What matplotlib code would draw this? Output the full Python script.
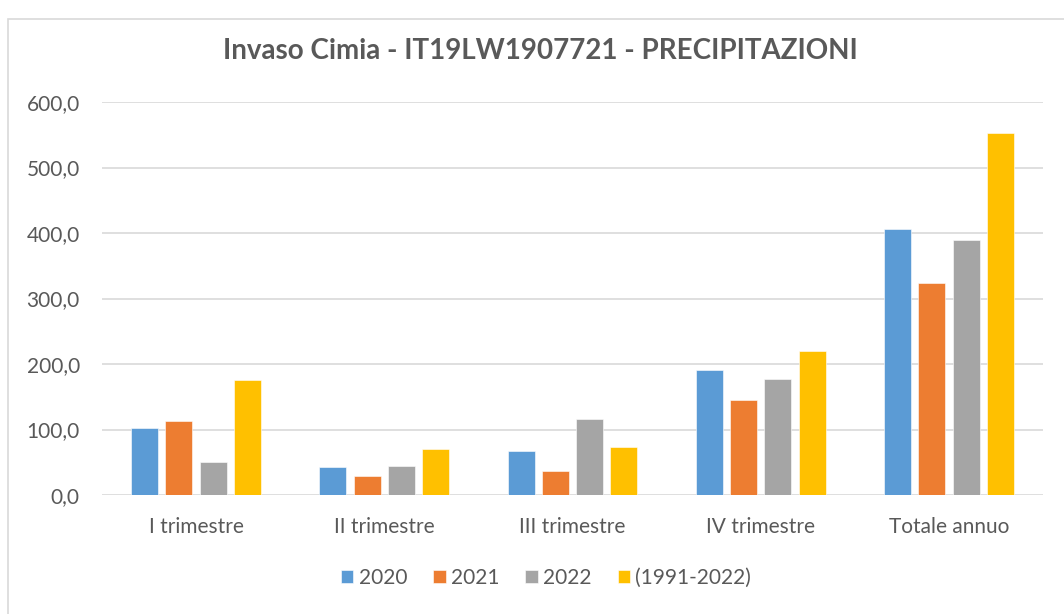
import numpy as np
import matplotlib.pyplot as plt
import matplotlib.patches as mpatches

plt.rcParams["font.family"] = ["Lato", "DejaVu Sans"]

categories = ["I trimestre", "II trimestre", "III trimestre", "IV trimestre", "Totale annuo"]
series_names = ["2020", "2021", "2022", "(1991-2022)"]
v2020 = [101.8, 42.3, 67.7, 190.6, 405.6]
v2021 = [113.0, 28.5, 36.2, 144.8, 324.2]
v2022 = [49.9, 44.3, 115.7, 177.7, 390.0]
vavg = [175.6, 70.2, 73.4, 220.0, 552.0]
colors = ["#5b9bd5", "#ed7d31", "#a5a5a5", "#ffc000"]

W, H = 1064, 614
fig = plt.figure(figsize=(W / 100, H / 100), dpi=100, facecolor="white")

# chart border (left and top visible)
border = mpatches.Rectangle((8 / W, -0.1), 1.2, 1.1 - 19 / H, transform=fig.transFigure,
                            fill=False, edgecolor="#d9d9d9", linewidth=1.2)
fig.patches.append(border)

ax = fig.add_axes([102 / W, 1 - 495 / H, (1043 - 102) / W, (495 - 102) / H])
x = np.arange(len(categories))
bw = 0.1435
step = 0.182
for i, (vals, c, name) in enumerate(zip([v2020, v2021, v2022, vavg], colors, series_names)):
    ax.bar(x + (i - 1.5) * step, vals, bw, color=c, label=name,
           edgecolor="white", linewidth=0.4, zorder=3)

ax.set_xlim(-0.5, len(categories) - 0.5)
ax.set_ylim(0, 600)
ax.set_yticks(np.arange(0, 601, 100))
ax.set_yticklabels([f"{v:.1f}".replace(".", ",") for v in np.arange(0, 601, 100)])
ax.set_xticks(x)
ax.set_xticklabels(categories)
ax.grid(axis="y", color="#d9d9d9", linewidth=1.2, zorder=0)
for s in ax.spines.values():
    s.set_visible(False)
ax.tick_params(axis="both", length=0, colors="#595959", labelsize=15)
ax.tick_params(axis="y", pad=16)
ax.tick_params(axis="x", pad=16)

fig.text(540 / W, 1 - 51 / H, "Invaso Cimia - IT19LW1907721 - PRECIPITAZIONI",
         ha="center", va="center", fontsize=20, fontweight="bold", color="#595959")

fig.legend(loc="center", bbox_to_anchor=(546 / W, 1 - 578 / H), ncol=4, frameon=False,
           fontsize=15, handlelength=0.6, handleheight=0.6, handletextpad=0.25,
           columnspacing=1.25, labelcolor="#595959")

fig.savefig("out.png", dpi=100, facecolor="white")
